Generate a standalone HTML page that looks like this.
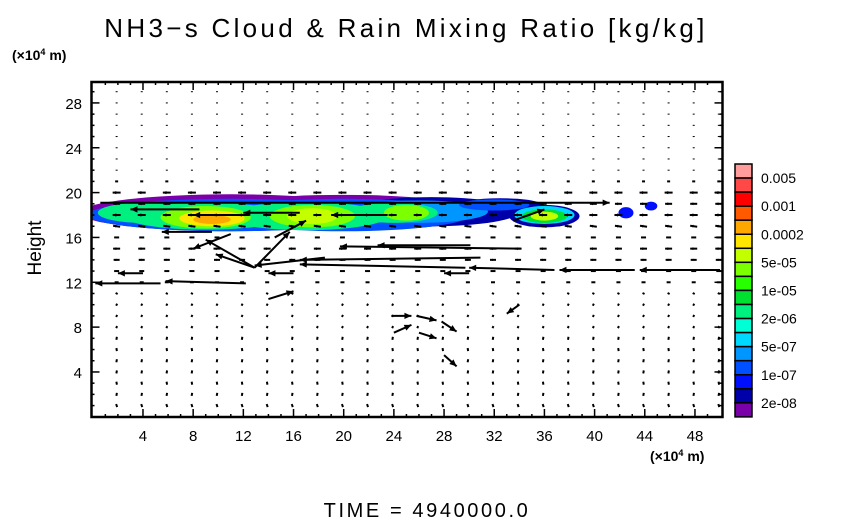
<!DOCTYPE html>
<html><head><meta charset="utf-8"><style>
html,body{margin:0;padding:0;background:#fff}
svg{display:block}
text{font-family:"Liberation Sans",sans-serif;fill:#000}
</style></head><body>
<svg id="chart" width="854" height="519" viewBox="0 0 854 519">
<defs><clipPath id="plotclip"><rect x="92" y="82" width="630" height="335"/></clipPath></defs>
<text x="406" y="37" font-size="26" text-anchor="middle" letter-spacing="3.3">NH3−s Cloud &amp; Rain Mixing Ratio [kg/kg]</text>
<text x="12" y="60" font-size="14" font-weight="bold">(×10<tspan font-size="9" dy="-5">4</tspan><tspan dy="5"> m)</tspan></text>
<text x="650" y="461" font-size="14" font-weight="bold">(×10<tspan font-size="9" dy="-5">4</tspan><tspan dy="5"> m)</tspan></text>
<text x="41" y="248" font-size="19" text-anchor="middle" transform="rotate(-90 41 248)">Height</text>
<text x="427" y="517" font-size="20" text-anchor="middle" letter-spacing="2.6">TIME  =  4940000.0</text>
<g id="cloud" clip-path="url(#plotclip)"></g>
<g id="vectors" clip-path="url(#plotclip)"></g>
<g id="axes"></g>
<g id="colorbar"></g>
</svg>
<script>
// ---- data ----
const xTicks = [4,8,12,16,20,24,28,32,36,40,44,48];
const yTicks = [4,8,12,16,20,24,28];
const levelColors = ["#ff9c9c","#ff4848","#ff0000","#ff5a00","#ffa800","#ffe600","#c4ff00","#7cff00","#28ff00","#00e030","#00f080","#00ffd4","#00d8ff","#0096ff","#0050ff","#0010ff","#0000a8","#7a00aa"];
const levelLabels = ["0.005","0.001","0.0002","5e-05","1e-05","2e-06","5e-07","1e-07","2e-08"];
// cloud blobs: [x, y, rx, ry, colorIndex] in data units
const blobX =  [11, 20, 27, 32.5, 36, 42.5, 44.5, 11, 20, 26, 32, 36, 4, 9, 17, 24, 36, 9, 17.5, 25, 36, 9.5, 17.5, 9.5];
const blobY =  [18.2, 18.2, 18.3, 18.8, 17.9, 18.2, 18.8, 18.0, 18.0, 18.3, 18.9, 18.0, 18.2, 17.9, 17.9, 18.2, 17.9, 17.8, 17.9, 18.2, 17.9, 17.7, 17.9, 17.6];
const blobRX = [12, 11, 7, 3.5, 2.8, 0.6, 0.5, 11.4, 10, 5.5, 2.8, 2.4, 3.6, 6.5, 6.5, 3.5, 1.8, 3.6, 3.4, 1.8, 1.1, 2.6, 2.0, 1.5];
const blobRY = [1.65, 1.6, 1.3, 0.7, 1.0, 0.5, 0.4, 1.45, 1.45, 1.0, 0.5, 0.8, 0.9, 1.2, 1.25, 0.9, 0.6, 1.0, 1.0, 0.7, 0.4, 0.7, 0.7, 0.4];
const blobC =  [17, 17, 16, 16, 16, 15, 15, 14, 14, 13, 14, 12, 10, 10, 10, 10, 9, 7, 7, 7, 6, 5, 6, 4];
// background vector per row (rows y=1..29): u, v
const rowU = [-1,0.5,-0.5,0.5,0.5,-0.5,0.5,1,1,1,-2,-4,-5,-6,-7,-5,-7,-8,-7,-8,-3,0,0,0,0,0,0,0,0];
const rowV = [3,3,3,3,3,3,3,2,2,2,1,0,0,0,0,0,1,0,0,0,0,1,1,1,1,1,1,1,1];
// notable arrows: tail (x0,y0) -> head (x1,y1) in data units
const arrX0 = [5.4, 12.2, 50.0, 43.2, 36.8, 29.7, 12.9, 12.9, 12.9, 18.5, 30.9, 34.1, 30.1, 0.6, 8.5, 16.5, 12.5, 23.5, 33.5, 9.5, 11, 14.5, 23.8, 25.8, 27.8, 24, 26, 14, 28, 4, 16, 30, 34];
const arrY0 = [11.9, 11.9, 13.1, 13.1, 13.1, 13.3, 13.3, 13.3, 13.3, 14.2, 14.2, 15.0, 15.3, 19.1, 18.5, 18.2, 18.0, 18.0, 17.5, 16.5, 16.3, 16.0, 9.0, 9.0, 8.5, 7.5, 7.5, 10.5, 5.5, 12.8, 12.8, 12.8, 10];
const arrX1 = [0.2, 5.8, 43.6, 37.2, 30.0, 16.5, 9.0, 9.8, 15.7, 12.9, 16.5, 19.7, 22.7, 41.2, 3.0, 12.0, 8.0, 19.0, 36.0, 5.5, 8.0, 17.0, 25.4, 27.4, 29.0, 25.4, 27.4, 16, 29, 2, 14, 28, 33];
const arrY1 = [11.9, 12.1, 13.1, 13.1, 13.3, 13.6, 15.8, 14.5, 16.5, 13.5, 14.0, 15.2, 15.3, 19.1, 18.5, 18.2, 18.0, 18.0, 18.5, 16.5, 15.0, 17.5, 9.0, 8.6, 7.6, 8.2, 7.0, 11.2, 4.5, 12.8, 12.8, 12.8, 9.2];

// ---- scales ----
const X0=92.8, PX=12.545, Y0=416.8, PY=11.21;
const sx = v => X0 + v*PX;
const sy = v => Y0 - v*PY;
const NS="http://www.w3.org/2000/svg";
function mk(tag, parent){const e=document.createElementNS(NS,tag);parent.appendChild(e);return e;}

// cloud
const cloud=document.getElementById('cloud');
for(let i=0;i<blobX.length;i++){
  const e=mk('ellipse',cloud);
  
  
  e.setAttribute('cx',sx(blobX[i]));e.setAttribute('cy',sy(blobY[i]));
  e.setAttribute('rx',blobRX[i]*PX);e.setAttribute('ry',blobRY[i]*PY);
  e.setAttribute('fill',levelColors[blobC[i]]);
}

// arrows
const vec=document.getElementById('vectors');
function arrow(x1,y1,x2,y2){
  const g=mk('g',vec);
  const dx=x2-x1, dy=y2-y1, L=Math.hypot(dx,dy);
  const l=mk('line',g);
  l.setAttribute('x1',x1);l.setAttribute('y1',y1);l.setAttribute('x2',x2);l.setAttribute('y2',y2);
  l.setAttribute('stroke','#000');l.setAttribute('stroke-width','2');
  if(L>5){
    const ux=dx/L, uy=dy/L, h=Math.min(7,L*0.45), w=h*0.45;
    const p=mk('polygon',g);
    p.setAttribute('points',`${x2},${y2} ${x2-ux*h-uy*w},${y2-uy*h+ux*w} ${x2-ux*h+uy*w},${y2-uy*h-ux*w}`);
    p.setAttribute('fill','#000');
  }
  return g;
}
for(let j=0;j<rowU.length;j++){
  const yv=j+1;
  for(let i=1;i<=25;i++){
    const xv=2*i-1+0.9;
    const cx=sx(xv), cy=sy(yv);
    const u=rowU[j], v=rowV[j];
    const a=arrow(cx-u/2, cy+v/2, cx+u/2+(u===0&&v===0?1:0), cy-v/2+(Math.abs(u)+Math.abs(v)<1?1:0));
    
    
  }
}
for(let k=0;k<arrX0.length;k++){
  const a=arrow(sx(arrX0[k]),sy(arrY0[k]),sx(arrX1[k]),sy(arrY1[k]));
  
  
}

// axes
const ax=document.getElementById('axes');
const frame=mk('rect',ax);


frame.setAttribute('x',91.5);frame.setAttribute('y',82);frame.setAttribute('width',631);frame.setAttribute('height',335);
frame.setAttribute('fill','none');frame.setAttribute('stroke','#000');frame.setAttribute('stroke-width','2.5');
function tick(x1,y1,x2,y2){const l=mk('line',ax);l.setAttribute('x1',x1);l.setAttribute('y1',y1);l.setAttribute('x2',x2);l.setAttribute('y2',y2);l.setAttribute('stroke','#000');l.setAttribute('stroke-width','1.5');}
for(let v=1;v<50;v++){const len=(v%4===0)?8:3;tick(sx(v),417,sx(v),417-len);tick(sx(v),82,sx(v),82+len);}
for(let v=1;v<30;v++){const len=(v%4===0)?8:3;tick(91.5,sy(v),91.5+len,sy(v));tick(722.5,sy(v),722.5-len,sy(v));}
xTicks.forEach(v=>{const t=mk('text',ax);
  
  
  t.setAttribute('x',sx(v));t.setAttribute('y',441);t.setAttribute('font-size','15');t.setAttribute('text-anchor','middle');t.textContent=v;});
yTicks.forEach(v=>{const t=mk('text',ax);
  
  
  t.setAttribute('x',82);t.setAttribute('y',sy(v)+6);t.setAttribute('font-size','15');t.setAttribute('text-anchor','end');t.textContent=v;});

// colorbar
const cb=document.getElementById('colorbar');
const cbTop=164, cbH=14.05;
levelColors.forEach((c,i)=>{const r=mk('rect',cb);
  
  
  r.setAttribute('x',735);r.setAttribute('y',cbTop+i*cbH);r.setAttribute('width',17);r.setAttribute('height',cbH);
  r.setAttribute('fill',c);r.setAttribute('stroke','#000');r.setAttribute('stroke-width','1.5');});
levelLabels.forEach((s,i)=>{const t=mk('text',cb);
  
  
  t.setAttribute('x',761);t.setAttribute('y',cbTop+(2*i+1)*cbH+5);t.setAttribute('font-size','14');t.textContent=s;});
</script>
</body></html>
